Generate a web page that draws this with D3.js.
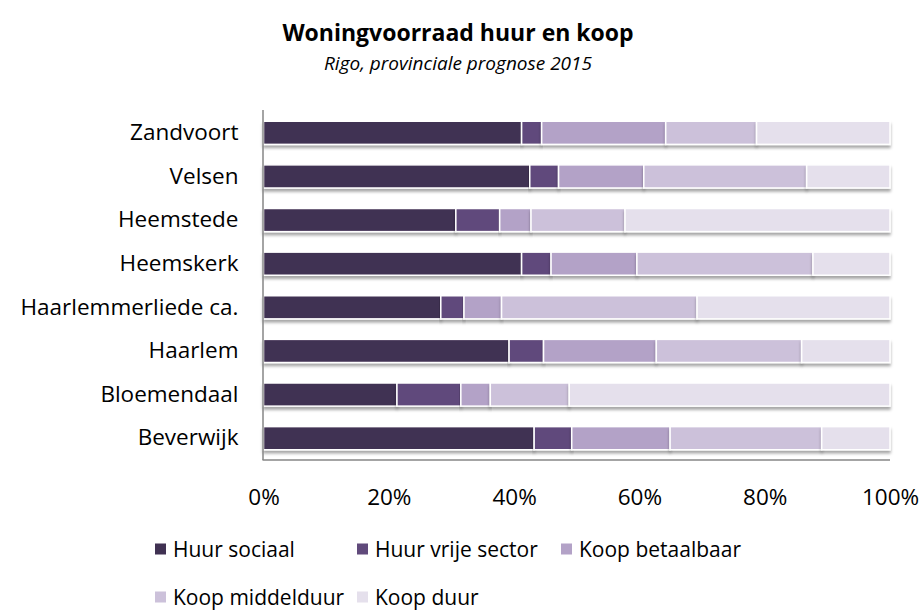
<!DOCTYPE html>
<html>
<head>
<meta charset="utf-8">
<script src="https://cdn.jsdelivr.net/npm/d3@7"></script>
<style>
  body { margin: 0; background: #fff; }
  text { font-family: "Open Sans", sans-serif; fill: #000; }
</style>
</head>
<body>
<div id="chart"></div>
<script>
// woningvoorraad per gemeente, aandeel in %
const gemeenten = ["Zandvoort", "Velsen", "Heemstede", "Heemskerk", "Haarlemmerliede ca.", "Haarlem", "Bloemendaal", "Beverwijk"];
const series = ["Huur sociaal", "Huur vrije sector", "Koop betaalbaar", "Koop middelduur", "Koop duur"];
const huurSociaal     = [41.2, 42.5, 30.7, 41.2, 28.3, 39.2, 21.3, 43.2];
const huurVrijeSector = [3.2, 4.6, 7.0, 4.7, 3.7, 5.5, 10.2, 6.0];
const koopBetaalbaar  = [19.8, 13.6, 5.0, 13.7, 6.0, 18.0, 4.7, 15.7];
const koopMiddelduur  = [14.5, 26.0, 15.0, 28.1, 31.2, 23.2, 12.6, 24.2];
const koopDuur        = [21.3, 13.3, 42.3, 12.3, 30.8, 14.1, 51.2, 10.9];
const xTicks = [0, 0.2, 0.4, 0.6, 0.8, 1];
const colors = ["#403152", "#604a7b", "#b3a2c7", "#ccc1da", "#e5e0ec"];

const W = 922, H = 611;
const margin = {top: 111, right: 32, bottom: 151, left: 263.5};
const fontSize = 22.5;

const rows = gemeenten.map((g, i) => ({
  gemeente: g,
  "Huur sociaal": huurSociaal[i],
  "Huur vrije sector": huurVrijeSector[i],
  "Koop betaalbaar": koopBetaalbaar[i],
  "Koop middelduur": koopMiddelduur[i],
  "Koop duur": koopDuur[i]
}));

const stacked = d3.stack().keys(series).offset(d3.stackOffsetExpand)(rows);

const svg = d3.select("#chart").append("svg")
  .attr("width", W).attr("height", H);

const defs = svg.append("defs");
const shadow = defs.append("filter").attr("id", "shadow")
  .attr("x", "-5%").attr("y", "-20%").attr("width", "110%").attr("height", "160%");
shadow.append("feDropShadow")
  .attr("dx", 0).attr("dy", 3).attr("stdDeviation", 1.8)
  .attr("flood-color", "#000").attr("flood-opacity", 0.35);

const x = d3.scaleLinear().domain([0, 1]).range([margin.left, W - margin.right]);
const y = d3.scaleBand().domain(gemeenten)
  .range([margin.top, H - margin.bottom]).paddingInner(0.47).paddingOuter(0.235);

const color = d3.scaleOrdinal().domain(series).range(colors);

// balken
svg.append("g").selectAll("g")
  .data(stacked)
  .join("g")
  .attr("fill", d => color(d.key))
  .selectAll("rect")
  .data(d => d)
  .join("rect")
  .attr("x", d => x(d[0]))
  .attr("y", d => y(d.data.gemeente))
  .attr("width", d => x(d[1]) - x(d[0]))
  .attr("height", y.bandwidth())
  .attr("stroke", "#fff")
  .attr("stroke-width", 1.5)
  .attr("filter", "url(#shadow)");

// assen
svg.append("line")
  .attr("x1", margin.left - 0.5).attr("x2", margin.left - 0.5)
  .attr("y1", margin.top - 1).attr("y2", H - margin.bottom)
  .attr("stroke", "#868686").attr("stroke-width", 1.5);
svg.append("line")
  .attr("x1", margin.left - 1).attr("x2", x(1))
  .attr("y1", H - margin.bottom).attr("y2", H - margin.bottom)
  .attr("stroke", "#868686").attr("stroke-width", 1.5);

const xAxis = svg.append("g")
  .attr("transform", `translate(0,${H - margin.bottom})`)
  .call(d3.axisBottom(x).tickValues(xTicks).tickFormat(d3.format(".0%")).tickSize(0).tickPadding(29));
xAxis.select(".domain").remove();
xAxis.selectAll("text").style("font-size", fontSize + "px").attr("fill", "#000");

const yAxis = svg.append("g")
  .attr("transform", `translate(${margin.left},0)`)
  .call(d3.axisLeft(y).tickSize(0).tickPadding(25));
yAxis.select(".domain").remove();
yAxis.selectAll("text").style("font-size", fontSize + "px").attr("fill", "#000");

// titel
svg.append("text")
  .attr("x", 458).attr("y", 41)
  .attr("text-anchor", "middle")
  .style("font-size", "23px").style("font-weight", "bold")
  .text("Woningvoorraad huur en koop");
svg.append("text")
  .attr("x", 458).attr("y", 70)
  .attr("text-anchor", "middle")
  .style("font-size", "19px").style("font-style", "italic")
  .text("Rigo, provinciale prognose 2015");

// legenda
const legendPos = [[155, 549], [357, 549], [561, 549], [155, 597], [357, 597]];
const legend = svg.append("g").selectAll("g")
  .data(series)
  .join("g")
  .attr("transform", (d, i) => `translate(${legendPos[i][0]},${legendPos[i][1]})`);
legend.append("rect")
  .attr("x", 0).attr("y", -5.5).attr("width", 11).attr("height", 11)
  .attr("fill", d => color(d));
legend.append("text")
  .attr("x", 18).attr("dy", "0.36em")
  .style("font-size", "21px")
  .text(d => d);
</script>
</body>
</html>
